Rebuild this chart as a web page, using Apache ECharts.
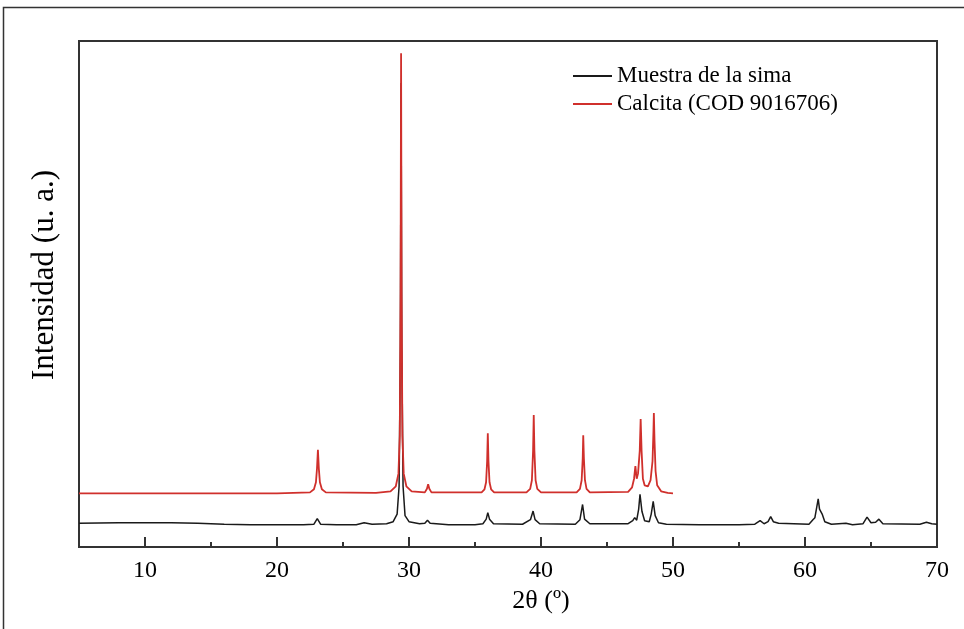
<!DOCTYPE html>
<html>
<head>
<meta charset="utf-8">
<script src="https://cdn.jsdelivr.net/npm/echarts@6/dist/echarts.min.js"></script>
<style>
html,body{margin:0;padding:0;background:#fff;}
#chart{width:964px;height:629px;}
</style>
</head>
<body>
<div id="chart"></div>
<script>
// ---- data (2θ in degrees, intensity in arbitrary units) ----
const seriesNames = ['Muestra de la sima', 'Calcita (COD 9016706)'];
const majorTicks = [10, 20, 30, 40, 50, 60, 70];
const minorTicks = [15, 25, 35, 45, 55, 65];

const muestra = [
  [5.0, 4.7], [8, 4.8], [10, 4.8], [12, 4.8], [14, 4.7], [16, 4.5], [18, 4.4], [20, 4.4],
  [22, 4.4], [22.8, 4.5], [23.05, 5.6], [23.3, 4.5], [24.5, 4.4], [26.0, 4.4], [26.6, 4.8],
  [27.2, 4.5], [28.3, 4.6], [28.8, 5.0], [29.1, 6.5], [29.25, 12], [29.35, 40], [29.4, 91.7],
  [29.45, 40], [29.55, 12], [29.7, 6.2], [30.0, 5.0], [30.8, 4.6], [31.2, 4.7], [31.4, 5.3],
  [31.6, 4.7], [33, 4.4], [35.0, 4.4], [35.6, 4.6], [35.85, 5.5], [35.97, 6.8], [36.1, 5.5],
  [36.4, 4.6], [38.6, 4.5], [39.2, 5.4], [39.4, 7.1], [39.55, 5.4], [39.9, 4.6], [42.6, 4.5],
  [42.95, 5.4], [43.15, 8.4], [43.3, 5.5], [43.7, 4.6], [46.6, 4.6], [46.95, 5.2], [47.1, 5.8],
  [47.25, 5.3], [47.4, 7.5], [47.5, 10.4], [47.65, 7.0], [47.85, 5.2], [48.2, 5.0], [48.35, 6.5],
  [48.5, 9.0], [48.65, 6.2], [48.9, 4.8], [49.5, 4.5], [52, 4.4], [55, 4.4], [56.2, 4.5],
  [56.6, 5.2], [56.9, 4.6], [57.2, 5.0], [57.4, 6.0], [57.6, 5.0], [58.0, 4.7], [60.3, 4.5],
  [60.6, 5.4], [60.75, 5.8], [60.9, 5.6], [61.0, 9.5], [61.1, 7.5], [61.3, 6.5], [61.5, 5.0],
  [62.0, 4.5], [63.1, 4.7], [63.6, 4.4], [64.4, 4.6], [64.7, 5.9], [65.0, 4.8], [65.35, 4.9],
  [65.6, 5.5], [65.9, 4.6], [68.7, 4.5], [69.2, 4.9], [69.6, 4.6], [70, 4.5]
];

const calcita = [
  [5.0, 10.6], [20, 10.6], [22.5, 10.8], [22.8, 11.4], [22.95, 12.8], [23.03, 15.5], [23.1, 19.2],
  [23.17, 15.5], [23.25, 12.8], [23.4, 11.4], [23.7, 10.8], [27.5, 10.7], [28.6, 11.0],
  [29.0, 12.0], [29.2, 14.5], [29.3, 22], [29.36, 50], [29.4, 97.6], [29.44, 50], [29.5, 22],
  [29.6, 14.5], [29.8, 12.0], [30.2, 11.0], [31.2, 10.8], [31.36, 11.5], [31.45, 12.4],
  [31.54, 11.5], [31.7, 10.8], [35.5, 10.8], [35.72, 11.4], [35.84, 12.8], [35.92, 17],
  [35.97, 22.5], [36.02, 17], [36.1, 12.8], [36.22, 11.4], [36.45, 10.8], [38.9, 10.8],
  [39.18, 11.5], [39.31, 13.2], [39.4, 19], [39.45, 26.1], [39.5, 19], [39.59, 13.2],
  [39.72, 11.5], [40.0, 10.8], [42.7, 10.8], [42.95, 11.5], [43.08, 13.2], [43.16, 17.5],
  [43.2, 22.1], [43.25, 17.5], [43.33, 13.2], [43.45, 11.5], [43.7, 10.8], [46.6, 10.9],
  [46.9, 11.8], [47.05, 13.5], [47.15, 16.0], [47.25, 13.5], [47.35, 14.5], [47.48, 19],
  [47.55, 25.3], [47.62, 19], [47.72, 13.5], [47.85, 12.2], [48.1, 12.0], [48.3, 13.2],
  [48.45, 17], [48.52, 23], [48.55, 26.5], [48.6, 21], [48.68, 15], [48.8, 12.2],
  [49.1, 11.0], [49.6, 10.7], [50.0, 10.6]
];

const chart = echarts.init(document.getElementById('chart'), null, {renderer: 'canvas'});
const serif = '"Liberation Serif", "DejaVu Serif", serif';

chart.setOption({
  animation: false,
  backgroundColor: '#ffffff',
  graphic: [{
    type: 'rect',
    shape: {x: 3.5, y: 7.5, width: 980, height: 640},
    style: {fill: 'none', stroke: '#333', lineWidth: 1.5},
    silent: true, z: -1
  }],
  grid: {
    left: 79, right: 27, top: 41, bottom: 82,
    show: true, borderColor: '#333', borderWidth: 2, backgroundColor: 'transparent'
  },
  legend: {
    orient: 'vertical',
    left: 568, top: 58,
    itemWidth: 39, itemHeight: 2, itemGap: 2,
    icon: 'rect',
    data: seriesNames,
    textStyle: {fontFamily: serif, fontSize: 23, color: '#000', lineHeight: 26}
  },
  xAxis: [{
    type: 'value', min: 5, max: 70,
    name: '2θ (º)', nameLocation: 'middle', nameGap: 40,
    nameTextStyle: {fontFamily: serif, fontSize: 26, color: '#000', padding: [0, 0, 0, 66]},
    axisLine: {show: true, onZero: false, lineStyle: {color: '#333', width: 2}},
    axisTick: {show: true, inside: true, length: 10, customValues: majorTicks, lineStyle: {color: '#333', width: 2}},
    axisLabel: {show: true, customValues: majorTicks, margin: 12, fontFamily: serif, fontSize: 24, color: '#000'},
    splitLine: {show: false}
  }, {
    type: 'value', min: 5, max: 70, position: 'bottom', offset: 0,
    axisLine: {show: false},
    axisTick: {show: true, inside: true, length: 5, customValues: minorTicks, lineStyle: {color: '#333', width: 2}},
    axisLabel: {show: false},
    splitLine: {show: false}
  }],
  yAxis: {
    type: 'value', min: 0, max: 100,
    name: 'Intensidad (u. a.)', nameLocation: 'middle', nameGap: 19,
    nameTextStyle: {fontFamily: serif, fontSize: 31, color: '#000', padding: [0, 0, 0, 38]},
    axisLine: {show: false},
    axisTick: {show: false},
    axisLabel: {show: false},
    splitLine: {show: false}
  },
  series: [{
    name: seriesNames[0], type: 'line', data: muestra, symbol: 'none',
    lineStyle: {color: '#1a1a1a', width: 1.5}, itemStyle: {color: '#1a1a1a'}, z: 2
  }, {
    name: seriesNames[1], type: 'line', data: calcita, symbol: 'none',
    lineStyle: {color: '#d0302c', width: 1.8}, itemStyle: {color: '#d0302c'}, z: 3
  }]
});
</script>
</body>
</html>
